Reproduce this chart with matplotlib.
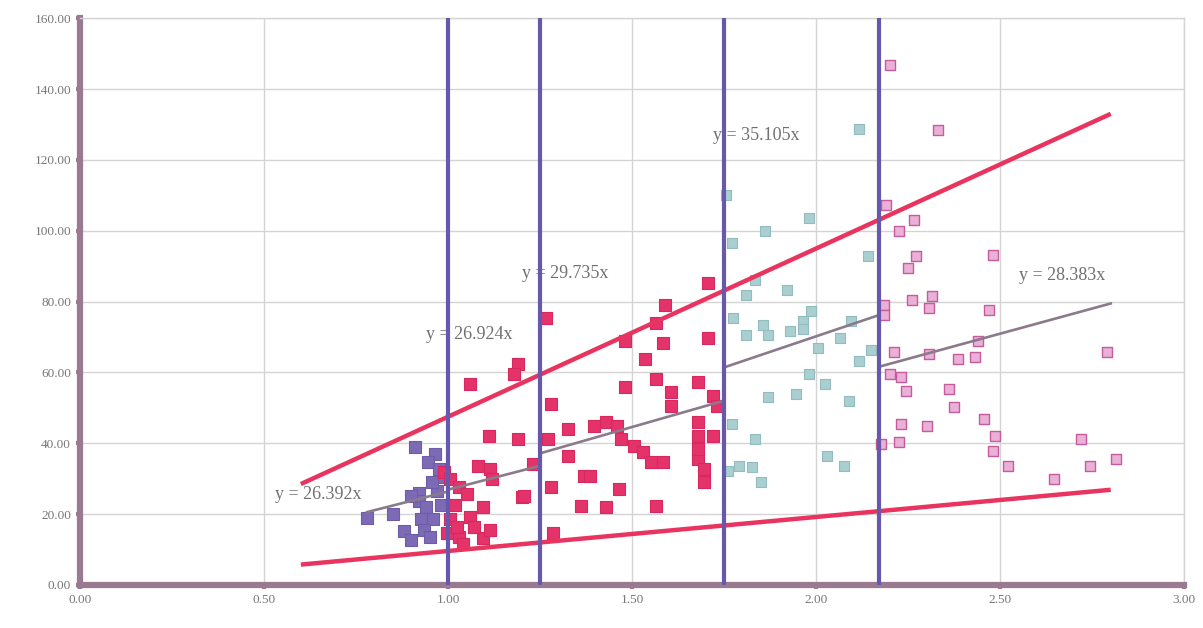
import numpy as np
import matplotlib.pyplot as plt

# data
purple_x = [0.78, 0.85, 0.88, 0.90, 0.91, 0.92, 0.92, 0.94, 0.925, 0.96, 0.935, 0.965,
            0.945, 0.97, 0.955, 0.98, 0.975, 0.90, 0.95, 0.99]
purple_y = [19.0, 19.9, 15.1, 12.8, 38.9, 26.1, 23.6, 21.9, 18.5, 18.5, 15.6, 36.9,
            34.7, 26.4, 29.0, 22.7, 32.7, 25.0, 13.5, 30.5]

red_x = [1.11, 1.19, 1.08, 1.115, 1.12, 0.99, 1.005, 1.03, 1.05, 1.20, 1.095, 1.06,
         1.005, 0.998, 1.03, 1.095, 1.07, 1.025, 1.23, 1.115, 1.02, 1.04,
         1.265, 1.19, 1.18, 1.06, 1.28, 1.27, 1.325, 1.395, 1.325, 1.37, 1.28, 1.205,
         1.36, 1.285,
         1.705, 1.59, 1.565, 1.48, 1.705, 1.585, 1.535, 1.48, 1.565, 1.605, 1.605,
         1.68, 1.72, 1.73, 1.43, 1.46, 1.68, 1.68, 1.72, 1.47, 1.505, 1.53, 1.55,
         1.585, 1.68, 1.695, 1.695, 1.68, 1.465, 1.43, 1.565, 1.385]
red_y = [42.0, 41.2, 33.5, 32.7, 29.8, 31.8, 29.8, 27.8, 25.6, 24.7, 21.9, 19.3,
         18.5, 14.8, 13.6, 13.4, 16.5, 16.5, 34.1, 15.6, 22.5, 11.5,
         75.3, 62.5, 59.7, 56.8, 51.1, 41.2, 44.0, 44.9, 36.4, 30.7, 27.8, 25.0,
         22.2, 14.8,
         85.2, 79.0, 73.9, 69.0, 69.6, 68.2, 63.9, 56.0, 58.2, 54.5, 50.6,
         57.4, 53.4, 50.6, 46.0, 44.9, 46.0, 42.0, 42.0, 41.2, 39.2, 37.5, 34.7,
         34.7, 35.5, 32.7, 29.0, 38.4, 27.0, 21.9, 22.2, 30.7]

teal_x = [2.115, 1.755, 1.77, 1.98, 1.86, 2.14, 1.835, 1.81, 1.92, 1.775, 1.81, 1.855,
          1.87, 1.93, 1.965, 1.985, 1.965, 2.095, 2.065, 2.15, 2.115, 2.005, 1.98,
          2.025, 1.87, 1.945, 2.09, 1.77, 1.835, 1.79, 1.825, 1.76, 1.85, 2.03, 2.075]
teal_y = [128.7, 110.0, 96.6, 103.7, 100.0, 92.9, 86.1, 81.8, 83.2, 75.3, 70.5, 73.3,
          70.5, 71.6, 74.4, 77.3, 72.4, 74.4, 69.6, 66.2, 63.1, 66.8, 59.7,
          56.8, 53.1, 54.0, 52.0, 45.5, 41.2, 33.5, 33.2, 32.1, 29.0, 36.4, 33.5]

pink_x = [2.20, 2.33, 2.19, 2.265, 2.225, 2.27, 2.25, 2.48, 2.185, 2.26, 2.315, 2.305,
          2.47, 2.185, 2.21, 2.305, 2.385, 2.43, 2.44, 2.20, 2.23, 2.245, 2.36, 2.375,
          2.23, 2.30, 2.455, 2.485, 2.225, 2.175, 2.48, 2.52,
          2.79, 2.72, 2.745, 2.815, 2.645]
pink_y = [146.9, 128.4, 107.4, 103.1, 100.0, 92.9, 89.5, 93.2, 79.0, 80.4, 81.5, 78.1,
          77.6, 76.1, 65.9, 65.3, 63.9, 64.5, 69.0, 59.7, 58.8, 54.8, 55.4, 50.3,
          45.5, 44.9, 46.9, 42.0, 40.3, 39.8, 37.8, 33.5,
          65.9, 41.2, 33.5, 35.5, 29.8]

# trend segments: slope, x start, x end
trend_slopes = [26.392, 26.924, 29.735, 35.105, 28.383]
trend_ranges = [(0.78, 1.00), (1.00, 1.25), (1.25, 1.75), (1.75, 2.17), (2.17, 2.80)]
trend_labels = ['y = 26.392x', 'y = 26.924x', 'y = 29.735x', 'y = 35.105x', 'y = 28.383x']
label_pos = [(0.53, 25.6), (0.94, 70.7), (1.20, 87.8), (1.72, 127.0), (2.55, 87.5)]

# envelope lines and class borders
upper_slope = 47.5
lower_slope = 9.6
envelope_range = (0.6, 2.8)
borders = [1.00, 1.25, 1.75, 2.17]

fig = plt.figure(figsize=(12.03, 6.28), dpi=100)
ax = fig.add_axes([0.0665, 0.0685, 0.918, 0.9025])

ax.scatter(purple_x, purple_y, marker='s', s=66, color='#7d6ab4', edgecolors='#6e5ca8',
           linewidths=0.8, zorder=3)
ax.scatter(red_x, red_y, marker='s', s=66, color='#e4326a', edgecolors='#d8285e',
           linewidths=0.8, zorder=3)
ax.scatter(teal_x, teal_y, marker='s', s=60, color='#a9cfd0', edgecolors='#92bcc0',
           linewidths=0.8, zorder=3)
ax.scatter(pink_x, pink_y, marker='s', s=55, color='#eab0d6', edgecolors='#c45c9e',
           linewidths=1.0, zorder=3)

for k, (x0, x1) in zip(trend_slopes, trend_ranges):
    xs = np.array([x0, x1])
    ax.plot(xs, k * xs, color='#8b7a8c', lw=1.9, zorder=4)
for txt, (lx, ly) in zip(trend_labels, label_pos):
    ax.text(lx, ly, txt, family='Liberation Serif', fontsize=13, color='#707070',
            va='center', ha='left', zorder=5)

xs = np.array(envelope_range)
ax.plot(xs, upper_slope * xs, color='#e8345f', lw=3.2, solid_capstyle='butt', zorder=5)
ax.plot(xs, lower_slope * xs, color='#e8345f', lw=3.2, solid_capstyle='butt', zorder=5)

for b in borders:
    ax.axvline(b, color='#6658ac', lw=3.0, zorder=6)

ax.set_xlim(0, 3)
ax.set_ylim(0, 160)
ax.set_xticks(np.arange(0, 3.01, 0.5))
ax.set_yticks(np.arange(0, 161, 20))
ax.xaxis.set_major_formatter('{x:.2f}')
ax.yaxis.set_major_formatter('{x:.2f}')
ax.grid(True, color='#d4d4d4', lw=1.0, zorder=0)
ax.set_axisbelow(True)

for side in ['left', 'bottom']:
    ax.spines[side].set_color('#9a7a90')
    ax.spines[side].set_linewidth(4.5)
for side in ['top', 'right']:
    ax.spines[side].set_color('#d4d4d4')
    ax.spines[side].set_linewidth(1)

ax.tick_params(length=3, width=3, color='#9a7a90', labelcolor='#777777', labelsize=9.5)
for lab in ax.get_xticklabels() + ax.get_yticklabels():
    lab.set_family('Liberation Serif')

fig.savefig('out.png', dpi=100)
